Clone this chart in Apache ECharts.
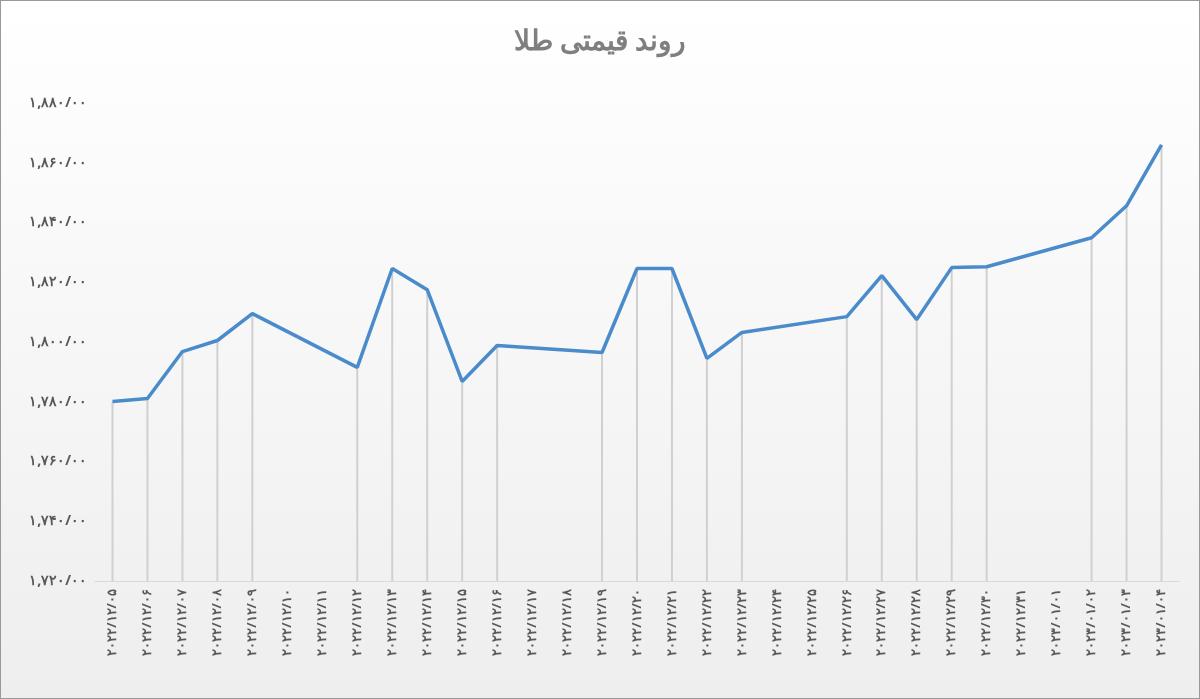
<!DOCTYPE html>
<html><head><meta charset="utf-8">
<script src="https://cdn.jsdelivr.net/npm/echarts@6/dist/echarts.min.js"></script>
<style>html,body{margin:0;padding:0;background:#fff}#c{width:1198px;height:697px;border:1px solid #999;}</style>
</head><body><div id="c"></div>
<script>
var categories = ['2022/12/05','2022/12/06','2022/12/07','2022/12/08','2022/12/09','2022/12/10','2022/12/11','2022/12/12','2022/12/13','2022/12/14','2022/12/15','2022/12/16','2022/12/17','2022/12/18','2022/12/19','2022/12/20','2022/12/21','2022/12/22','2022/12/23','2022/12/24','2022/12/25','2022/12/26','2022/12/27','2022/12/28','2022/12/29','2022/12/30','2022/12/31','2023/01/01','2023/01/02','2023/01/03','2023/01/04'];
var prices = [1780.1,1781.1,1796.8,1800.5,1809.5,null,null,1791.5,1824.6,1817.5,1786.8,1798.8,null,null,1796.5,1824.6,1824.6,1794.5,1803.2,null,null,1808.5,1822.2,1807.5,1824.9,1825.2,null,null,1834.9,1845.6,1866];
var yTicks = [1720,1740,1760,1780,1800,1820,1840,1860,1880];
var fa = function(s){return String(s).replace(/[0-9]/g,function(d){return '۰۱۲۳۴۵۶۷۸۹'[+d];});};
var ltr = function(s){return '\u202D'+s+'\u202C';};
var chart = echarts.init(document.getElementById('c'));
chart.setOption({
  backgroundColor: new echarts.graphic.LinearGradient(0,0,0,1,[{offset:0,color:'#ffffff'},{offset:1,color:'#eeeeee'}]),
  title:{text:'روند قیمتی طلا',left:'center',top:22,textStyle:{fontFamily:'Noto Sans',fontSize:28,fontWeight:'bold',color:'#7f7f7f'}},
  grid:{left:94,right:20,top:102,bottom:117},
  xAxis:{type:'category',data:categories,boundaryGap:true,
    axisLine:{lineStyle:{color:'#d9d9d9'}},axisTick:{show:false},
    axisLabel:{rotate:90,interval:0,color:'#595959',fontSize:13,fontWeight:'bold',fontFamily:'Noto Sans',
      formatter:function(v){return ltr(fa(v));}}},
  yAxis:{type:'value',min:yTicks[0],max:yTicks[yTicks.length-1],interval:20,
    splitLine:{show:false},axisLine:{show:false},axisTick:{show:false},
    axisLabel:{color:'#595959',fontSize:14,fontWeight:'bold',fontFamily:'Noto Sans',formatter:function(v){return ltr(fa(v.toLocaleString('en-US'))+'/۰۰');}}},
  series:[
    {type:'bar',data:prices,barWidth:2,itemStyle:{color:'#d0d0d0'},silent:true},
    {type:'line',data:prices,connectNulls:true,symbol:'none',lineStyle:{color:'#4a8ccb',width:3.5},z:5}
  ]
});
</script></body></html>
